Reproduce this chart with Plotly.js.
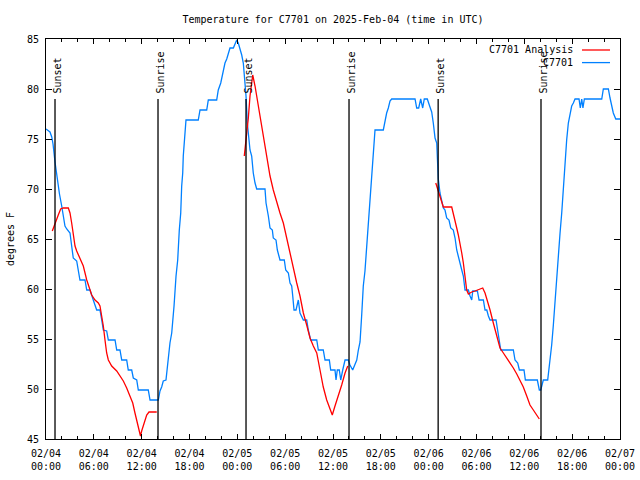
<!DOCTYPE html>
<html>
<head>
<meta charset="utf-8">
<script src="https://cdn.plot.ly/plotly-3.0.1.min.js"></script>
<style>html,body{margin:0;padding:0;background:#fff;}#chart{width:640px;height:480px;}</style>
</head>
<body>
<div id="chart"></div>
<script>
// Hours since 2025-02-04 00:00 UTC
const obsHours = [0,0.5,0.72,0.88,1.13,1.34,1.42,1.69,1.97,2.17,2.38,2.60,3.01,3.22,3.42,3.85,4.05,4.26,4.89,5.11,5.52,5.73,5.93,6.36,6.77,6.99,7.19,7.61,7.82,8.66,8.87,9.28,9.50,10.12,10.32,10.75,10.95,11.38,11.58,12.83,13.05,14.09,14.30,14.51,14.71,15.05,15.14,15.34,15.55,15.77,15.89,16.06,16.31,16.52,16.72,16.90,17.02,17.15,17.22,17.40,17.56,19.10,19.32,20.16,20.36,21.41,21.61,21.92,22.17,22.45,22.67,22.87,23.08,23.50,23.71,23.92,24.12,24.34,24.55,24.75,24.96,25.09,25.25,25.46,25.59,25.80,26.00,26.22,26.43,27.47,27.60,27.89,28.10,28.39,28.51,28.85,29.02,29.35,29.89,30.07,30.40,30.61,30.82,30.95,31.11,31.36,31.65,31.86,32.08,32.28,32.70,32.90,33.20,33.96,34.16,34.78,35.00,35.54,35.71,36.25,36.38,36.54,36.79,36.97,37.22,37.51,37.92,38.13,38.47,38.76,38.98,39.18,39.39,39.60,39.80,40.01,40.23,40.43,40.64,40.85,41.06,41.27,42.31,42.52,42.73,42.94,43.15,43.36,46.29,46.50,46.75,47.00,47.25,47.45,47.83,48.08,48.38,48.58,48.80,49.01,49.08,49.21,49.42,49.64,49.84,50.05,50.26,50.55,50.77,51.09,51.31,51.52,51.72,51.93,52.15,52.35,52.56,52.98,53.19,53.40,53.53,54.11,54.32,54.86,55.07,55.29,55.49,55.70,56.45,56.67,56.87,57.04,58.62,58.83,59.17,59.38,59.96,60.13,61.63,61.88,62.06,62.18,62.38,62.93,63.01,63.10,63.31,63.43,63.64,63.85,64.06,64.26,64.48,64.69,64.89,65.10,65.31,65.52,65.73,65.94,66.15,66.36,66.86,67.02,67.20,67.35,67.53,69.71,69.91,70.54,70.75,70.96,71.16,71.47,72.00];
const obsTemps = [76,75.7,75.2,74.5,72.7,71.3,70.9,69.5,68.3,67.3,66.3,66.0,65.6,64.3,63.1,62.8,61.6,60.9,60.9,59.9,59.9,59.3,58.9,57.9,57.9,56.9,55.9,55.8,54.9,54.9,53.9,53.9,52.9,52.9,51.9,51.9,51.1,50.9,49.9,49.9,48.9,48.9,49.8,50.2,50.8,50.9,51.6,53.3,54.6,55.6,56.6,58.3,61.3,62.9,65.9,67.6,70.3,71.6,73.3,75.6,76.9,76.9,77.9,77.9,78.9,78.9,79.9,80.6,81.6,82.6,83.0,83.6,84.1,84.1,84.6,84.9,84.6,84.1,83.4,82.6,80.9,79.3,76.6,74.6,73.9,73.3,71.6,70.6,70.0,70.0,68.6,67.3,66.1,65.9,65.1,64.9,63.9,62.9,62.9,61.9,61.6,60.6,60.3,59.3,57.9,57.9,58.9,57.6,57.3,56.9,56.9,55.9,54.9,54.9,53.9,53.9,52.9,52.9,51.9,51.9,50.9,51.9,51.9,50.9,51.9,52.9,52.9,52.4,51.9,52.4,52.9,53.9,54.7,57.4,60.3,61.8,64.4,66.5,68.8,71.0,73.9,75.9,75.9,76.9,77.6,78.1,78.8,79.0,79.0,78.1,78.1,79.0,78.1,79.0,79.0,78.4,77.7,76.6,75.1,74.6,72.6,71.0,69.6,68.6,68.1,67.9,67.1,66.9,66.1,65.9,65.1,63.9,63.1,62.6,61.9,61.3,59.9,59.9,59.3,58.9,59.8,59.8,58.9,58.9,57.9,57.9,57.3,56.9,56.9,55.9,54.9,53.9,53.9,52.9,52.6,51.9,51.9,50.9,50.9,49.9,49.9,50.4,50.9,50.9,51.4,52.4,53.4,54.4,56.4,58.9,61.6,63.6,65.6,67.6,70.3,72.3,74.9,76.6,77.6,78.3,78.6,79.0,79.0,78.1,79.0,78.1,79.0,79.0,80.0,80.0,79.1,78.3,77.6,77.0,77.0];

// Analysis series (null separates the three nights)
const anaHours = [0.79,1.13,1.54,1.84,2.17,2.80,3.01,3.22,3.42,3.64,3.85,4.26,4.68,5.11,5.52,5.73,6.15,6.56,6.77,6.99,7.19,7.40,7.61,7.82,8.24,8.87,9.28,9.70,10.12,10.54,10.88,11.16,11.50,11.85,12.00,12.29,12.63,12.92,13.89,
  null,
  24.87,25.09,25.38,25.59,25.80,25.93,26.22,26.51,26.85,27.26,27.69,28.10,28.51,28.94,29.35,29.77,30.19,30.61,31.02,31.45,31.86,32.28,32.70,33.12,33.53,33.96,34.37,34.78,35.21,35.63,35.91,36.25,36.67,37.09,37.51,37.85,
  null,
  48.89,49.21,49.42,49.64,49.84,50.89,51.09,51.31,51.52,51.72,51.93,52.15,52.35,52.56,52.77,52.98,53.40,53.81,54.44,54.78,55.07,55.29,55.70,56.11,56.54,56.95,57.37,57.80,58.21,58.62,59.05,59.46,59.87,60.30,60.71,61.13,61.55,61.88];
const anaTemps = [65.8,66.6,67.4,68.0,68.1,68.1,67.6,66.6,65.3,64.3,63.8,63.1,62.3,60.9,59.9,59.4,58.9,58.6,58.3,57.3,56.3,54.9,53.6,52.9,52.3,51.8,51.3,50.8,50.1,49.3,48.6,47.6,46.3,45.3,45.8,46.6,47.4,47.7,47.7,
  null,
  73.3,74.9,77.1,79.3,80.9,81.4,80.3,78.9,77.4,75.3,73.0,71.3,69.9,68.6,67.6,66.6,65.1,63.6,61.9,60.6,59.3,57.6,56.4,55.1,54.3,53.6,51.9,50.2,48.9,47.9,47.4,48.3,49.3,50.4,51.6,52.3,
  null,
  70.6,69.8,69.3,68.6,68.2,68.2,67.6,66.8,66.1,65.4,64.6,63.6,62.6,61.3,59.9,59.5,59.7,59.8,60.0,60.1,59.6,58.9,57.9,56.6,55.3,54.1,53.6,53.1,52.6,52.1,51.5,50.9,50.2,49.3,48.4,47.9,47.4,47.0];

const sunEventHours = [1.13, 14.05, 25.09, 38.01, 49.19, 62.09];
const sunEventLabels = ["Sunset", "Sunrise", "Sunset", "Sunrise", "Sunset", "Sunrise"];
const sunLineTop = 79.0;

const seriesNames = ["C7701 Analysis", "C7701"];
const seriesColors = ["#ff0000", "#0080ff"];

const base = Date.UTC(2025, 1, 4, 0, 0, 0);
const H = 3600e3;
const toT = h => (h === null ? null : base + h * H);

const FONT = "DejaVu Sans Mono, Liberation Mono, monospace";

const traces = [
  {x: obsHours.map(toT), y: obsTemps, type: 'scatter', mode: 'lines', name: seriesNames[1],
   line: {color: seriesColors[1], width: 1.3}, connectgaps: false},
  {x: anaHours.map(toT), y: anaTemps, type: 'scatter', mode: 'lines', name: seriesNames[0],
   line: {color: seriesColors[0], width: 1.3}, connectgaps: false}
];

const shapes = sunEventHours.map(h => ({
  type: 'line', xref: 'x', yref: 'y', x0: toT(h), x1: toT(h), y0: 45, y1: sunLineTop,
  line: {color: '#000', width: 1.3}, layer: 'above'
}));
const annotations = sunEventHours.map((h, i) => ({
  x: toT(h), y: 79.3, xref: 'x', yref: 'y', text: sunEventLabels[i], showarrow: false,
  textangle: -90, xanchor: 'center', yanchor: 'bottom', xshift: 1.5,
  font: {family: FONT, size: 10, color: '#000'}
}));

// legend (text on left, sample on right, as in the reference)
const legY = [0.9725, 0.941];
seriesNames.forEach((n, i) => {
  annotations.push({x: 0.9216, y: legY[i], xref: 'paper', yref: 'paper', text: n, showarrow: false,
    xanchor: 'right', yanchor: 'middle', font: {family: FONT, size: 10, color: '#000'}});
  shapes.push({type: 'line', xref: 'paper', yref: 'paper', x0: 0.9338, x1: 0.9826, y0: legY[i], y1: legY[i],
    line: {color: seriesColors[i], width: 1.3}});
});

const layout = {
  width: 640, height: 480,
  margin: {l: 46, r: 20, t: 39, b: 41},
  paper_bgcolor: '#fff', plot_bgcolor: '#fff',
  showlegend: false,
  font: {family: FONT, size: 10, color: '#000'},
  title: {text: 'Temperature for C7701 on 2025-Feb-04 (time in UTC)', x: 0.5, xref: 'paper',
          y: 1 - 19/480, yref: 'container', yanchor: 'middle', font: {family: FONT, size: 10, color: '#000'}},
  xaxis: {
    type: 'date', range: [base, base + 72 * H], tick0: base, dtick: 6 * H,
    tickformat: '%m/%d<br>%H:%M', ticks: 'inside', ticklen: 5, tickcolor: '#000', tickwidth: 1,
    ticklabelstandoff: 5,
    showline: true, linecolor: '#000', linewidth: 1, mirror: 'ticks', showgrid: false, zeroline: false,
    minor: {dtick: 2 * H, tick0: base, ticks: 'inside', ticklen: 3, tickcolor: '#000', showgrid: false},
    tickfont: {family: FONT, size: 10, color: '#000'}, fixedrange: true
  },
  yaxis: {
    range: [45, 85], dtick: 5, tick0: 45, ticks: 'inside', ticklen: 6, tickcolor: '#000', tickwidth: 1,
    ticklabelstandoff: 4,
    showline: true, linecolor: '#000', linewidth: 1, mirror: 'ticks', showgrid: false, zeroline: false,
    tickfont: {family: FONT, size: 10, color: '#000'},
    title: {text: 'degrees F', standoff: 10, font: {family: FONT, size: 10, color: '#000'}},
    automargin: false, fixedrange: true
  },
  shapes: shapes,
  annotations: annotations
};

Plotly.newPlot('chart', traces, layout, {displayModeBar: false, staticPlot: true});
</script>
</body>
</html>
